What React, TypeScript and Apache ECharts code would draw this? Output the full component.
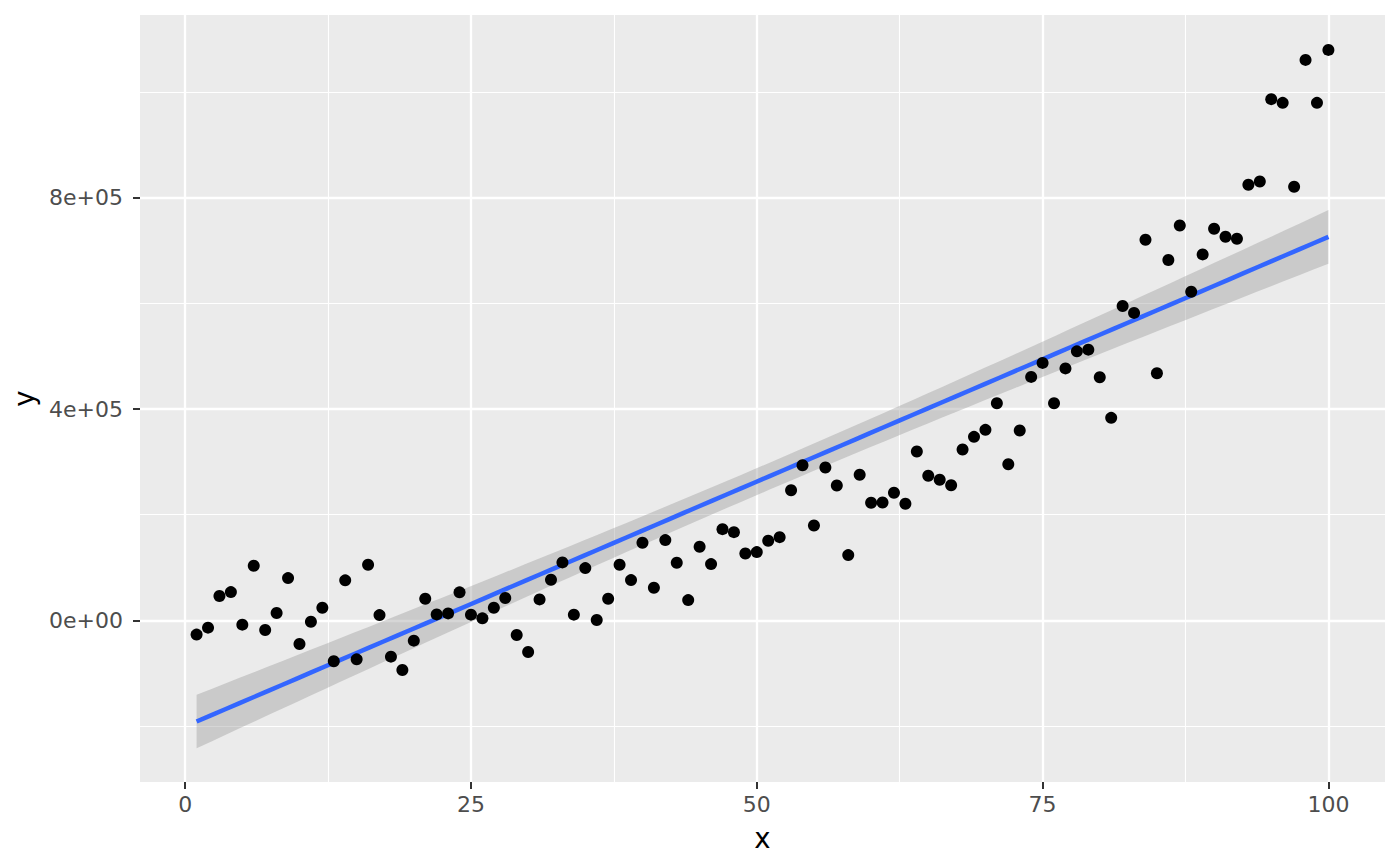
import React, { useEffect, useRef } from "react";
import * as echarts from "echarts";

// observations
const xValues = [
  1, 2, 3, 4, 5, 6, 7, 8, 9, 10, 11, 12, 13, 14, 15, 16, 17, 18, 19, 20,
  21, 22, 23, 24, 25, 26, 27, 28, 29, 30, 31, 32, 33, 34, 35, 36, 37, 38, 39, 40,
  41, 42, 43, 44, 45, 46, 47, 48, 49, 50, 51, 52, 53, 54, 55, 56, 57, 58, 59, 60,
  61, 62, 63, 64, 65, 66, 67, 68, 69, 70, 71, 72, 73, 74, 75, 76, 77, 78, 79, 80,
  81, 82, 83, 84, 85, 86, 87, 88, 89, 90, 91, 92, 93, 94, 95, 96, 97, 98, 99, 100,
];

const yValues = [
  -27000, -13800, 46000, 53500, -8100, 103400, -18300, 13800, 80000, -44800,
  -2500, 24000, -77500, 75700, -73800, 105300, 10000, -68700, -94000, -38400,
  41000, 11300, 13200, 53000, 10800, 3800, 24000, 42200, -27800, -60000,
  39700, 77000, 109700, 10800, 98900, 600, 41000, 105300, 76200, 147000,
  61800, 151900, 109100, 38400, 139400, 106500, 172700, 167000, 126700, 129200,
  150700, 157500, 246400, 293700, 179700, 289400, 255300, 123500, 275600, 222600,
  223200, 241500, 220700, 319600, 273700, 266100, 255900, 323400, 347400, 360700,
  411000, 295600, 359300, 460900, 487400, 411000, 477000, 509300, 512500, 460200,
  383400, 595200, 582000, 720600, 467700, 682200, 747600, 622200, 692800, 741400,
  726300, 722500, 824600, 830800, 986700, 979700, 820800, 1061000, 979700, 1079900,
];

// axis breaks
const xMajor = [0, 25, 50, 75, 100];
const xMinor = [12.5, 37.5, 62.5, 87.5];
const yMajor = [0, 400000, 800000];
const yMinor = [-200000, 200000, 600000, 1000000];

const PANEL = "#EBEBEB";
const AXIS_TEXT = "#4D4D4D";
const FONT = '"DejaVu Sans", sans-serif';

// R-style scientific labels, e.g. 4e+05
const sci = (v: number) => {
  if (v === 0) return "0e+00";
  const e = Math.floor(Math.log10(Math.abs(v)));
  const m = Math.round((v / Math.pow(10, e)) * 100) / 100;
  const sign = e < 0 ? "-" : "+";
  return `${m}e${sign}${String(Math.abs(e)).padStart(2, "0")}`;
};

// lm(y ~ x) with 95% confidence band, like geom_smooth(method = "lm")
const fitLm = (xs: number[], ys: number[], nOut = 80) => {
  const n = xs.length;
  const mx = xs.reduce((a, b) => a + b, 0) / n;
  const my = ys.reduce((a, b) => a + b, 0) / n;
  let sxx = 0;
  let sxy = 0;
  xs.forEach((x, i) => {
    sxx += (x - mx) * (x - mx);
    sxy += (x - mx) * (ys[i] - my);
  });
  const b = sxy / sxx;
  const a = my - b * mx;
  let rss = 0;
  xs.forEach((x, i) => {
    const r = ys[i] - (a + b * x);
    rss += r * r;
  });
  const s = Math.sqrt(rss / (n - 2));
  const t = 1.9845; // qt(0.975, 98)
  const lo = Math.min(...xs);
  const hi = Math.max(...xs);
  const out: { x: number; fit: number; lower: number; upper: number }[] = [];
  for (let k = 0; k < nOut; k++) {
    const x = lo + ((hi - lo) * k) / (nOut - 1);
    const fit = a + b * x;
    const se = s * Math.sqrt(1 / n + ((x - mx) * (x - mx)) / sxx);
    out.push({ x, fit, lower: fit - t * se, upper: fit + t * se });
  }
  return out;
};

const App: React.FC = () => {
  const chartRef = useRef<HTMLDivElement>(null);

  useEffect(() => {
    document.body.style.margin = "0";
    if (!chartRef.current) return;
    const chart = echarts.init(chartRef.current, undefined, { renderer: "svg" });

    const smooth = fitLm(xValues, yValues);
    const points = xValues.map((x, i) => [x, yValues[i]]);

    const xMin = -3.95;
    const xMax = 104.95;
    const yMin = -306000;
    const yMax = 1146000;

    const hiddenLine = { show: false, onZero: false };

    const option: echarts.EChartsOption = {
      animation: false,
      backgroundColor: "#FFFFFF",
      textStyle: { fontFamily: FONT },
      grid: {
        left: 140,
        right: 15,
        top: 15,
        bottom: 84,
        show: true,
        backgroundColor: PANEL,
        borderWidth: 0,
      },
      xAxis: [
        {
          type: "value",
          min: xMin,
          max: xMax,
          axisLine: hiddenLine,
          axisTick: {
            show: true,
            length: 7,
            lineStyle: { color: "#333333", width: 2 },
            customValues: xMajor,
          } as any,
          axisLabel: {
            color: AXIS_TEXT,
            fontSize: 22,
            fontFamily: FONT,
            margin: 11,
            customValues: xMajor,
          } as any,
          splitLine: { show: true, lineStyle: { color: "#FFFFFF", width: 2.3 } },
          name: "x",
          nameLocation: "middle",
          nameGap: 42,
          nameTextStyle: { color: "#000000", fontSize: 27.5, fontFamily: FONT },
        },
        {
          type: "value",
          min: xMin,
          max: xMax,
          axisLine: hiddenLine,
          axisTick: { show: false, customValues: xMinor } as any,
          axisLabel: { show: false, customValues: xMinor } as any,
          splitLine: { show: true, lineStyle: { color: "#FFFFFF", width: 1.1 } },
        },
      ],
      yAxis: [
        {
          type: "value",
          min: yMin,
          max: yMax,
          axisLine: hiddenLine,
          axisTick: {
            show: true,
            length: 7,
            lineStyle: { color: "#333333", width: 2 },
            customValues: yMajor,
          } as any,
          axisLabel: {
            color: AXIS_TEXT,
            fontSize: 22,
            fontFamily: FONT,
            margin: 17,
            formatter: (v: number) => sci(v),
            customValues: yMajor,
          } as any,
          splitLine: { show: true, lineStyle: { color: "#FFFFFF", width: 2.3 } },
          name: "y",
          nameLocation: "middle",
          nameGap: 98,
          nameRotate: 90,
          nameTextStyle: { color: "#000000", fontSize: 27.5, fontFamily: FONT },
        },
        {
          type: "value",
          min: yMin,
          max: yMax,
          axisLine: hiddenLine,
          axisTick: { show: false, customValues: yMinor } as any,
          axisLabel: { show: false, customValues: yMinor } as any,
          splitLine: { show: true, lineStyle: { color: "#FFFFFF", width: 1.1 } },
        },
      ],
      series: [
        {
          name: "band",
          type: "custom",
          data: [[smooth[0].x, smooth[0].fit]],
          silent: true,
          z: 3,
          renderItem: (_params: any, api: any) => {
            const upper = smooth.map((d) => api.coord([d.x, d.upper]));
            const lower = smooth.map((d) => api.coord([d.x, d.lower])).reverse();
            return {
              type: "polygon",
              shape: { points: [...upper, ...lower] },
              style: { fill: "rgba(153,153,153,0.4)", stroke: "none" },
            };
          },
        } as any,
        {
          name: "fit",
          type: "line",
          data: smooth.map((d) => [d.x, d.fit]),
          symbol: "none",
          lineStyle: { color: "#3366FF", width: 4.5 },
          silent: true,
          z: 4,
        },
        {
          name: "points",
          type: "scatter",
          data: points,
          symbol: "circle",
          symbolSize: 12,
          itemStyle: { color: "#000000", opacity: 1 },
          z: 5,
        },
      ],
    };

    chart.setOption(option);
    return () => chart.dispose();
  }, []);

  return <div ref={chartRef} style={{ width: 1400, height: 866 }} />;
};

export default App;
